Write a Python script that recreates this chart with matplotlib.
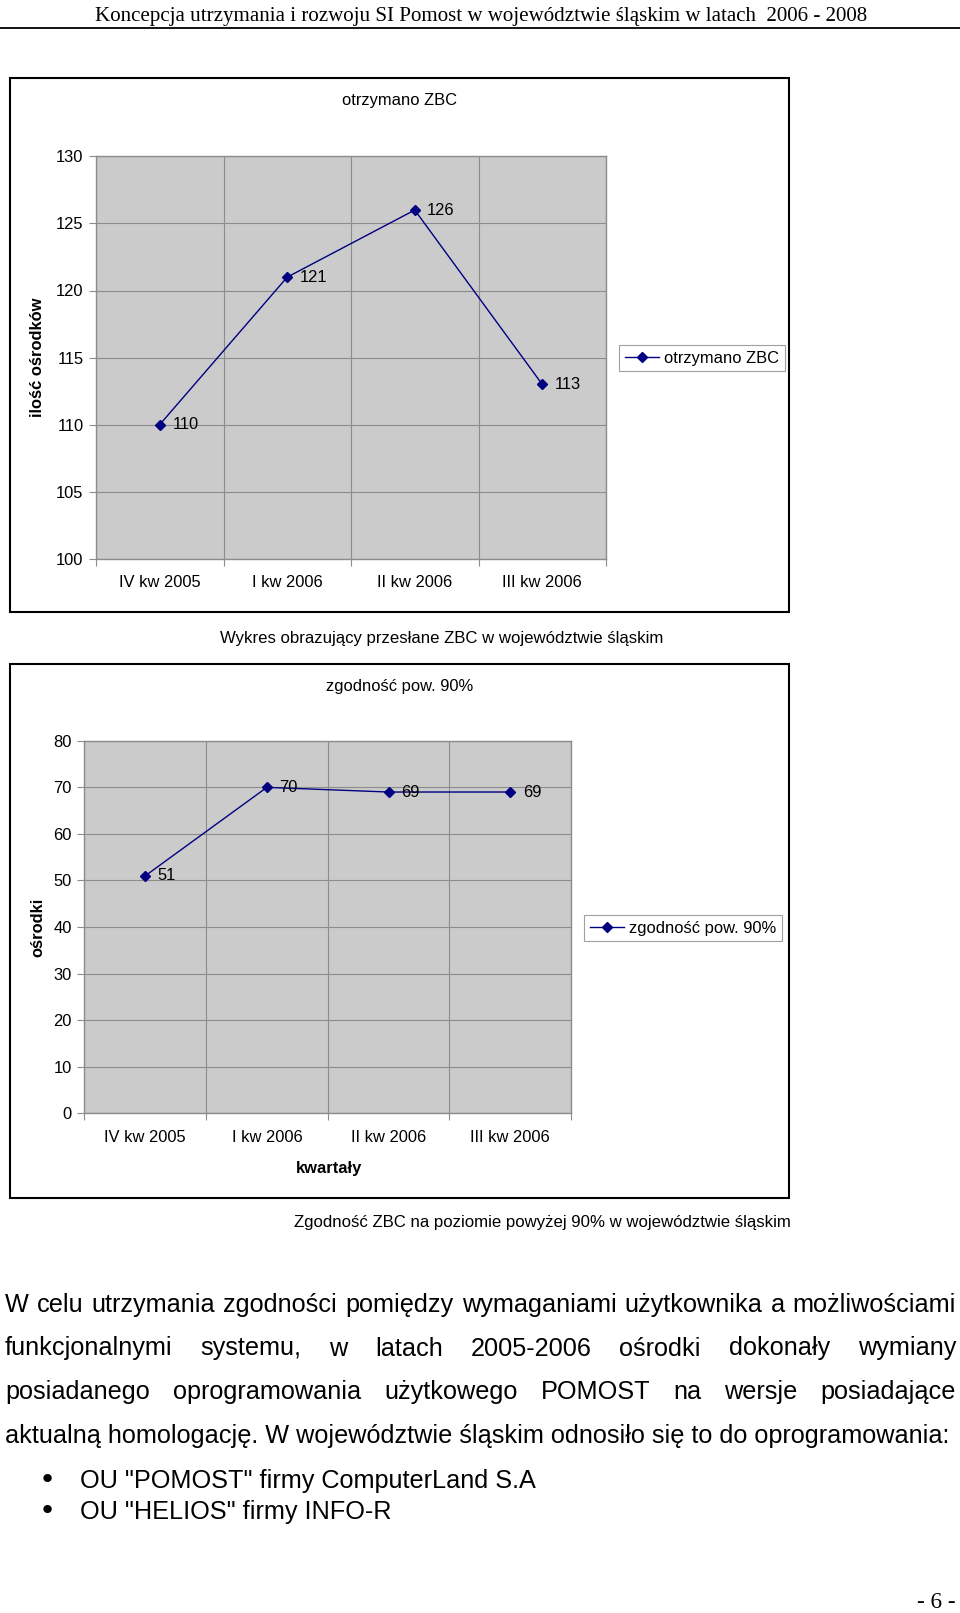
"""
Page from the SI Pomost report: two Excel-style line charts plus body text.
"""

import matplotlib
matplotlib.use("Agg")
import matplotlib.pyplot as plt
from matplotlib import font_manager
from matplotlib.patches import Rectangle
from matplotlib.lines import Line2D

W, H = 960, 1613

quarters = ["IV kw 2005", "I kw 2006", "II kw 2006", "III kw 2006"]
received_zbc = [110, 121, 126, 113]
compliance_90 = [51, 70, 69, 69]

header = "Koncepcja utrzymania i rozwoju SI Pomost w województwie śląskim w latach  2006 - 2008"
caption1 = "Wykres obrazujący przesłane ZBC w województwie śląskim"
caption2 = "Zgodność ZBC na poziomie powyżej 90% w województwie śląskim"
body_lines = [
    "W celu utrzymania zgodności pomiędzy wymaganiami użytkownika a możliwościami",
    "funkcjonalnymi systemu, w latach 2005-2006 ośrodki dokonały wymiany",
    "posiadanego oprogramowania użytkowego POMOST na wersje posiadające",
    "aktualną homologację. W województwie śląskim odnosiło się to do oprogramowania:",
]
bullets = ['OU "POMOST" firmy ComputerLand S.A', 'OU "HELIOS" firmy INFO-R']

NAVY = "#000080"
PLOT_BG = "#CBCBCB"
GRID = "#8C8C8C"
CHART_FONT = "Liberation Sans"
FS = 11.9
CAP_FS = 12.1


def has_font(name):
    try:
        font_manager.findfont(name, fallback_to_default=False)
        return True
    except ValueError:
        return False


BODY_FONT = "Liberation Sans Narrow" if has_font("Liberation Sans Narrow") else "Liberation Sans"
SERIF = "Liberation Serif"

fig = plt.figure(figsize=(W / 100, H / 100), dpi=100)
renderer = fig.canvas.get_renderer()


def fx(x):
    return x / W


def fy(y):
    return 1 - y / H


def text_width(s, family, size):
    t = fig.text(0, 0, s, family=family, fontsize=size)
    w = t.get_window_extent(renderer).width
    t.remove()
    return w


def fit_size(s, family, width, base=20.0):
    return base * width / text_width(s, family, base)


def px_axes(x0, y0, x1, y1):
    return fig.add_axes([fx(x0), fy(y1), (x1 - x0) / W, (y1 - y0) / H])


def line_chart(ax, values, ymin, ymax, step, label):
    xs = range(len(values))
    ax.set_facecolor(PLOT_BG)
    ax.plot(xs, values, color=NAVY, lw=1.0, marker="D", ms=5,
            mec=NAVY, mfc=NAVY, label=label, zorder=3)
    for x, v in zip(xs, values):
        ax.annotate(str(v), (x, v), xytext=(9, 0), textcoords="offset points",
                    va="center", ha="left", fontsize=FS, family=CHART_FONT,
                    zorder=4)
    ax.set_xlim(-0.5, len(values) - 0.5)
    ax.set_ylim(ymin, ymax)
    ax.set_yticks(range(ymin, ymax + 1, step))
    ax.set_xticks([i - 0.5 for i in range(len(values) + 1)])
    ax.set_xticklabels([])
    ax.set_xticks(list(xs), minor=True)
    ax.set_xticklabels(quarters, minor=True, fontsize=FS, family=CHART_FONT)
    ax.tick_params(axis="x", which="minor", length=0, pad=12)
    ax.tick_params(axis="x", which="major", length=5, color=GRID, direction="out")
    ax.tick_params(axis="y", length=5, color=GRID, pad=4, labelsize=FS)
    for lab in ax.get_yticklabels():
        lab.set_family(CHART_FONT)
    ax.grid(True, which="major", color=GRID, lw=0.8)
    ax.set_axisbelow(True)
    for side in ax.spines.values():
        side.set_color(GRID)
        side.set_linewidth(1.0)


def frame(x0, y0, x1, y1):
    fig.add_artist(Rectangle((fx(x0), fy(y1)), (x1 - x0) / W, (y1 - y0) / H,
                             transform=fig.transFigure, fill=False,
                             edgecolor="black", lw=1.5))


def legend(ax, label, x_left, y_mid):
    handle = Line2D([], [], color=NAVY, lw=1.0, marker="D", ms=5,
                    mec=NAVY, mfc=NAVY)
    leg = ax.legend([handle], [label], loc="center left",
                    bbox_to_anchor=(fx(x_left), fy(y_mid)),
                    bbox_transform=fig.transFigure, fancybox=False,
                    edgecolor="#A0A0A0", framealpha=1, borderpad=0.35,
                    handlelength=2.1, handletextpad=0.3, borderaxespad=0,
                    prop={"family": CHART_FONT, "size": FS})
    leg.get_frame().set_linewidth(0.8)


# header
hsize = fit_size(header, SERIF, 771)
fig.text(fx(95), fy(21), header, family=SERIF, fontsize=hsize, va="baseline")
fig.add_artist(Line2D([0, 1], [fy(28), fy(28)], transform=fig.transFigure,
                      color="black", lw=1.3))

# chart 1
frame(10, 78, 789, 612)
ax1 = px_axes(96, 156.4, 606, 558.7)
line_chart(ax1, received_zbc, 100, 130, 5, "otrzymano ZBC")
legend(ax1, "otrzymano ZBC", 619, 358)
fig.text(fx(400), fy(101), "otrzymano ZBC", family=CHART_FONT, fontsize=FS,
         ha="center", va="center")
fig.text(fx(38), fy(357), "ilość ośrodków", family=CHART_FONT, fontsize=FS,
         weight="bold", rotation=90, ha="center", va="center")
fig.text(fx(442), fy(638), caption1, family=CHART_FONT, fontsize=CAP_FS,
         ha="center", va="center")

# chart 2
frame(10, 664, 789, 1198)
ax2 = px_axes(84.4, 740.8, 571, 1113.3)
line_chart(ax2, compliance_90, 0, 80, 10, "zgodność pow. 90%")
legend(ax2, "zgodność pow. 90%", 584, 928)
fig.text(fx(400), fy(687), "zgodność pow. 90%", family=CHART_FONT, fontsize=FS,
         ha="center", va="center")
fig.text(fx(38), fy(927), "ośrodki", family=CHART_FONT, fontsize=FS,
         weight="bold", rotation=90, ha="center", va="center")
fig.text(fx(329), fy(1168), "kwartały", family=CHART_FONT, fontsize=FS,
         weight="bold", ha="center", va="center")
fig.text(fx(542), fy(1223), caption2, family=CHART_FONT, fontsize=CAP_FS,
         ha="center", va="center")

# body text, justified like the word processor does
bsize = fit_size(body_lines[-1], BODY_FONT, 940)
left, right = 5, 956
base_y = [1312, 1355.5, 1399, 1442.5]
for i, (line, y) in enumerate(zip(body_lines, base_y)):
    if i == len(body_lines) - 1:
        fig.text(fx(left), fy(y), line, family=BODY_FONT, fontsize=bsize,
                 va="baseline")
        continue
    words = line.split()
    widths = [text_width(w, BODY_FONT, bsize) for w in words]
    gap = (right - left - sum(widths)) / (len(words) - 1)
    x = left
    for word, wd in zip(words, widths):
        fig.text(fx(x), fy(y), word, family=BODY_FONT, fontsize=bsize,
                 va="baseline")
        x += wd + gap

for item, y in zip(bullets, [1488, 1519]):
    fig.text(fx(47), fy(y - 8), "•", family="DejaVu Sans", fontsize=bsize * 1.15,
             ha="center", va="center")
    fig.text(fx(80), fy(y), item, family=BODY_FONT, fontsize=bsize,
             va="baseline")

fig.text(fx(956), fy(1608), "- 6 -", family=SERIF, fontsize=hsize * 1.1,
         ha="right", va="baseline")

fig.savefig("out.png", dpi=100)
